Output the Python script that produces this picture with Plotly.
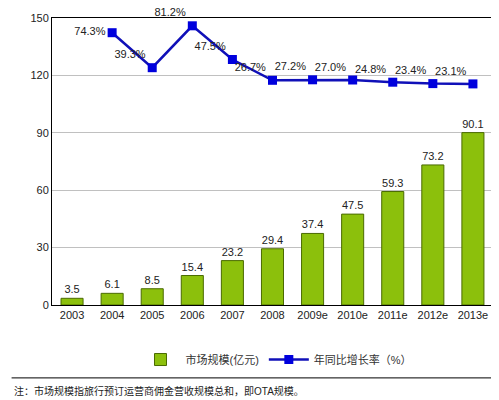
import plotly.graph_objects as go

years = ["2003", "2004", "2005", "2006", "2007", "2008", "2009e", "2010e", "2011e", "2012e", "2013e"]
market_size = [3.5, 6.1, 8.5, 15.4, 23.2, 29.4, 37.4, 47.5, 59.3, 73.2, 90.1]
growth_years = years[1:]
growth_rate = [74.3, 39.3, 81.2, 47.5, 26.7, 27.2, 27.0, 24.8, 23.4, 23.1]
growth_labels = [f"{v:.1f}%" for v in growth_rate]
label_pos = ["middle left"] + ["top left"] * 9

font = "Liberation Sans, Noto Sans CJK SC"

fig = go.Figure()
fig.add_trace(go.Bar(
    x=years, y=market_size, name="市场规模(亿元)",
    marker=dict(color="#8cc00c", line=dict(color="#4a6a00", width=1)),
    text=[f"{v:.1f}" for v in market_size], textposition="outside",
    textfont=dict(size=11, color="#222"), cliponaxis=False, width=0.55,
))
fig.add_trace(go.Scatter(
    x=growth_years, y=growth_rate, name="年同比增长率（%）", yaxis="y2",
    mode="lines+markers+text", text=growth_labels, textposition=label_pos,
    textfont=dict(size=11, color="#222"),
    line=dict(color="#1010b8", width=2.5),
    marker=dict(symbol="square", size=9, color="#0000dd"),
    cliponaxis=False,
))

fig.update_layout(
    width=499, height=400,
    margin=dict(l=44, r=6, t=10, b=103, autoexpand=False),
    paper_bgcolor="white", plot_bgcolor="white",
    font=dict(family=font, size=11, color="#222"),
    showlegend=True,
    legend=dict(orientation="h", x=0.5, xanchor="center", y=-0.19, yanchor="middle",
                font=dict(size=11, color="#333"), itemwidth=40,
                bgcolor="rgba(0,0,0,0)"),
    xaxis=dict(showline=True, linecolor="black", linewidth=1, mirror=True,
               ticks="", tickfont=dict(size=11)),
    yaxis=dict(range=[0, 150], dtick=30, showgrid=True, gridcolor="#c0c0c0",
               showline=True, linecolor="black", linewidth=1, mirror=True,
               ticks="", tickfont=dict(size=11), zeroline=False),
    yaxis2=dict(overlaying="y", range=[-198, 89], visible=False),
    shapes=[dict(type="line", xref="paper", yref="paper", x0=-0.09, x1=1.0,
                 y0=-0.254, y1=-0.254, line=dict(color="black", width=1))],
    annotations=[dict(text="注：市场规模指旅行预订运营商佣金营收规模总和，即OTA规模。",
                      xref="paper", yref="paper", x=-0.09, y=-0.30, xanchor="left",
                      yanchor="middle", showarrow=False, font=dict(size=10, color="#222"))],
)

fig.write_html("out.html")
